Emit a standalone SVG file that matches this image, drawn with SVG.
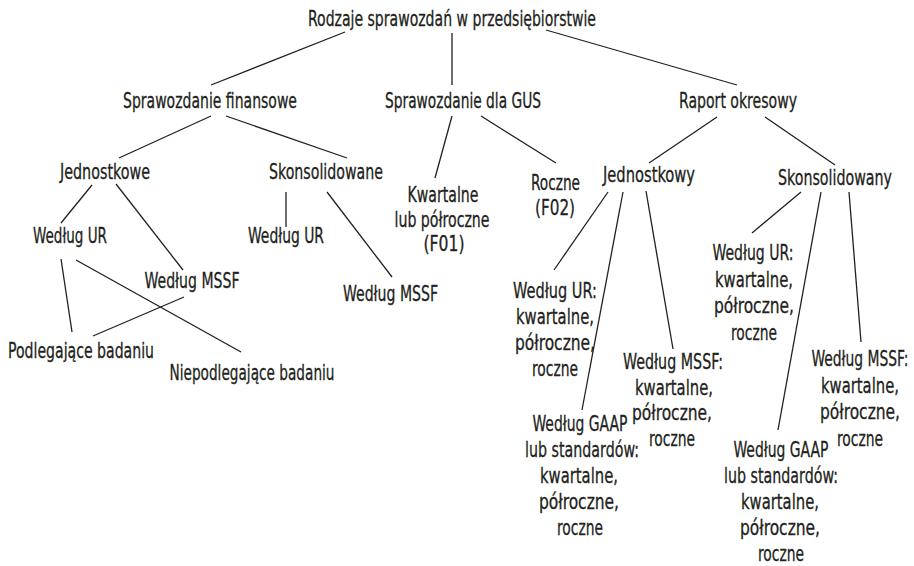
<svg xmlns="http://www.w3.org/2000/svg" width="914" height="566" viewBox="0 0 914 566">
<style>
text{font-family:"Liberation Sans Narrow","DejaVu Sans Condensed","Liberation Sans",sans-serif;font-stretch:condensed;font-size:21px;fill:#231f20;stroke:#231f20;stroke-width:0.3;text-anchor:middle}
.c line{stroke:#231f20;stroke-width:1.3;fill:none}
</style>
<rect width="914" height="566" fill="#fff"/>
<g class="c" id="connectors">
<line x1="345" y1="32" x2="211" y2="85"/>
<line x1="452" y1="33" x2="452" y2="85"/>
<line x1="546" y1="30" x2="737" y2="85"/>
<line x1="211" y1="116" x2="119" y2="158"/>
<line x1="226" y1="116" x2="347" y2="158"/>
<line x1="452" y1="116" x2="435" y2="178"/>
<line x1="481" y1="116" x2="556" y2="163"/>
<line x1="717" y1="117" x2="649" y2="163"/>
<line x1="765" y1="117" x2="835" y2="165"/>
<line x1="92" y1="185" x2="61" y2="223"/>
<line x1="116" y1="184" x2="183" y2="270"/>
<line x1="286" y1="192" x2="286" y2="227"/>
<line x1="327" y1="192" x2="392" y2="277"/>
<line x1="61" y1="259" x2="72" y2="332"/>
<line x1="76" y1="260" x2="241" y2="352"/>
<line x1="184" y1="297" x2="93" y2="336"/>
<line x1="608" y1="192" x2="554" y2="270"/>
<line x1="623" y1="192" x2="582" y2="410"/>
<line x1="646" y1="191" x2="673" y2="349"/>
<line x1="801" y1="192" x2="752" y2="233"/>
<line x1="821" y1="192" x2="778" y2="430"/>
<line x1="849" y1="192" x2="861" y2="342"/>
</g>
<g id="root"><text x="452" y="26" textLength="288" lengthAdjust="spacingAndGlyphs">Rodzaje sprawozdań w przedsiębiorstwie</text></g>
<g id="sf"><text x="210" y="108" textLength="174" lengthAdjust="spacingAndGlyphs">Sprawozdanie finansowe</text></g>
<g id="gus"><text x="463" y="108" textLength="156" lengthAdjust="spacingAndGlyphs">Sprawozdanie dla GUS</text></g>
<g id="raport"><text x="738" y="108" textLength="118" lengthAdjust="spacingAndGlyphs">Raport okresowy</text></g>
<g id="jednostkowe"><text x="105" y="179" textLength="90" lengthAdjust="spacingAndGlyphs">Jednostkowe</text></g>
<g id="skonsolidowane"><text x="326" y="179" textLength="114" lengthAdjust="spacingAndGlyphs">Skonsolidowane</text></g>
<g id="kwartalne-gus">
<text x="443" y="202" textLength="71" lengthAdjust="spacingAndGlyphs">Kwartalne</text>
<text x="442" y="226.5" textLength="95" lengthAdjust="spacingAndGlyphs">lub półroczne</text>
<text x="444" y="251" textLength="41" lengthAdjust="spacingAndGlyphs">(F01)</text>
</g>
<g id="roczne-gus">
<text x="555.5" y="190" textLength="49" lengthAdjust="spacingAndGlyphs">Roczne</text>
<text x="555" y="214.5" textLength="40" lengthAdjust="spacingAndGlyphs">(F02)</text>
</g>
<g id="jednostkowy"><text x="649" y="182" textLength="92" lengthAdjust="spacingAndGlyphs">Jednostkowy</text></g>
<g id="skonsolidowany"><text x="835" y="185" textLength="114" lengthAdjust="spacingAndGlyphs">Skonsolidowany</text></g>
<g id="j-ur"><text x="70" y="243" textLength="74" lengthAdjust="spacingAndGlyphs">Według UR</text></g>
<g id="j-mssf"><text x="192" y="288" textLength="95" lengthAdjust="spacingAndGlyphs">Według MSSF</text></g>
<g id="s-ur"><text x="286" y="243" textLength="76" lengthAdjust="spacingAndGlyphs">Według UR</text></g>
<g id="s-mssf"><text x="390.5" y="301" textLength="95" lengthAdjust="spacingAndGlyphs">Według MSSF</text></g>
<g id="podlegajace"><text x="81" y="358" textLength="146" lengthAdjust="spacingAndGlyphs">Podlegające badaniu</text></g>
<g id="niepodlegajace"><text x="252" y="380" textLength="165" lengthAdjust="spacingAndGlyphs">Niepodlegające badaniu</text></g>
<g id="ro-j-ur">
<text x="555" y="298" textLength="84" lengthAdjust="spacingAndGlyphs">Według UR:</text>
<text x="555" y="324" textLength="78" lengthAdjust="spacingAndGlyphs">kwartalne,</text>
<text x="555" y="350" textLength="80" lengthAdjust="spacingAndGlyphs">półroczne,</text>
<text x="555" y="376" textLength="46" lengthAdjust="spacingAndGlyphs">roczne</text>
</g>
<g id="ro-j-gaap">
<text x="580" y="431" textLength="95" lengthAdjust="spacingAndGlyphs">Według GAAP</text>
<text x="582" y="457" textLength="114" lengthAdjust="spacingAndGlyphs">lub standardów:</text>
<text x="579" y="483" textLength="78" lengthAdjust="spacingAndGlyphs">kwartalne,</text>
<text x="579" y="509" textLength="80" lengthAdjust="spacingAndGlyphs">półroczne,</text>
<text x="580" y="535" textLength="46" lengthAdjust="spacingAndGlyphs">roczne</text>
</g>
<g id="ro-j-mssf">
<text x="673" y="369" textLength="100" lengthAdjust="spacingAndGlyphs">Według MSSF:</text>
<text x="674" y="394.5" textLength="78" lengthAdjust="spacingAndGlyphs">kwartalne,</text>
<text x="672" y="420" textLength="80" lengthAdjust="spacingAndGlyphs">półroczne,</text>
<text x="672" y="445.5" textLength="46" lengthAdjust="spacingAndGlyphs">roczne</text>
</g>
<g id="ro-s-ur">
<text x="753" y="260" textLength="81" lengthAdjust="spacingAndGlyphs">Według UR:</text>
<text x="754" y="286.5" textLength="78" lengthAdjust="spacingAndGlyphs">kwartalne,</text>
<text x="754" y="313" textLength="80" lengthAdjust="spacingAndGlyphs">półroczne,</text>
<text x="754" y="339.5" textLength="46" lengthAdjust="spacingAndGlyphs">roczne</text>
</g>
<g id="ro-s-gaap">
<text x="781" y="457" textLength="95" lengthAdjust="spacingAndGlyphs">Według GAAP</text>
<text x="781" y="483" textLength="114" lengthAdjust="spacingAndGlyphs">lub standardów:</text>
<text x="780" y="509" textLength="78" lengthAdjust="spacingAndGlyphs">kwartalne,</text>
<text x="780" y="535" textLength="80" lengthAdjust="spacingAndGlyphs">półroczne,</text>
<text x="781" y="561" textLength="46" lengthAdjust="spacingAndGlyphs">roczne</text>
</g>
<g id="ro-s-mssf">
<text x="860" y="366" textLength="97" lengthAdjust="spacingAndGlyphs">Według MSSF:</text>
<text x="860" y="392.5" textLength="78" lengthAdjust="spacingAndGlyphs">kwartalne,</text>
<text x="860" y="419" textLength="80" lengthAdjust="spacingAndGlyphs">półroczne,</text>
<text x="860" y="445.5" textLength="46" lengthAdjust="spacingAndGlyphs">roczne</text>
</g>
</svg>
